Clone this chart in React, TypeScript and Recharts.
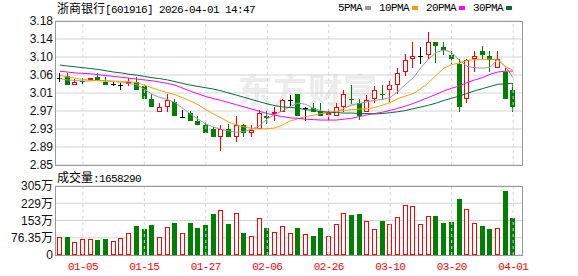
import React from 'react';
import { ComposedChart, Bar, Line, XAxis, YAxis, CartesianGrid, ReferenceLine } from 'recharts';

const dates = [
  '12-29', '12-30', '12-31', '01-05', '01-06', '01-07', '01-08', '01-09', '01-12', '01-13',
  '01-14', '01-15', '01-16', '01-19', '01-20', '01-21', '01-22', '01-23', '01-26', '01-27',
  '01-28', '01-29', '01-30', '02-02', '02-03', '02-04', '02-05', '02-06', '02-09', '02-10',
  '02-11', '02-12', '02-13', '02-24', '02-25', '02-26', '02-27', '03-02', '03-03', '03-04',
  '03-05', '03-06', '03-09', '03-10', '03-11', '03-12', '03-13', '03-16', '03-17', '03-18',
  '03-19', '03-20', '03-23', '03-24', '03-25', '03-26', '03-27', '03-30', '03-31', '04-01',
];

const opens = [
  3.05, 3.053, 3.033, 3.042, 3.046, 3.051, 3.041, 3.036, 3.033, 3.037,
  3.041, 3.032, 3.001, 2.972, 2.983, 2.995, 2.961, 2.97, 2.951, 2.942,
  2.933, 2.914, 2.933, 2.914, 2.942, 2.924, 2.933, 2.963, 2.969, 2.972,
  3.0, 3.012, 2.98, 2.98, 2.974, 2.968, 2.963, 2.983, 3.002, 2.991,
  2.972, 3.001, 3.012, 3.021, 3.033, 3.063, 3.093, 3.099, 3.102, 3.131,
  3.12, 3.101, 3.082, 3.001, 3.093, 3.112, 3.1, 3.073, 3.063, 3.021,
];
const highs = [
  3.06, 3.06, 3.048, 3.05, 3.05, 3.061, 3.051, 3.04, 3.039, 3.05,
  3.051, 3.036, 3.012, 2.992, 3.012, 3.001, 2.976, 2.974, 2.963, 2.948,
  2.938, 2.942, 2.944, 2.963, 2.944, 2.942, 2.976, 2.974, 2.982, 3.001,
  3.011, 3.012, 2.982, 2.991, 2.991, 2.978, 2.991, 3.021, 3.033, 3.001,
  3.011, 3.031, 3.033, 3.043, 3.073, 3.105, 3.133, 3.12, 3.154, 3.131,
  3.131, 3.112, 3.092, 3.093, 3.112, 3.122, 3.112, 3.112, 3.073, 3.035,
];
const lows = [
  3.04, 3.033, 3.033, 3.035, 3.045, 3.045, 3.033, 3.032, 3.021, 3.031,
  3.022, 3.001, 2.983, 2.972, 2.972, 2.963, 2.961, 2.951, 2.942, 2.923,
  2.914, 2.882, 2.914, 2.902, 2.914, 2.914, 2.933, 2.944, 2.951, 2.972,
  2.985, 2.963, 2.951, 2.972, 2.963, 2.953, 2.963, 2.972, 2.99, 2.952,
  2.972, 2.991, 3.0, 2.995, 3.012, 3.055, 3.073, 3.082, 3.093, 3.084,
  3.101, 3.082, 2.972, 2.992, 3.063, 3.092, 3.063, 3.073, 3.002, 2.972,
];
const closes = [
  3.05, 3.033, 3.041, 3.042, 3.05, 3.045, 3.033, 3.036, 3.033, 3.041,
  3.022, 3.001, 2.983, 2.982, 3.0, 2.963, 2.961, 2.951, 2.942, 2.923,
  2.914, 2.933, 2.914, 2.942, 2.924, 2.931, 2.97, 2.958, 2.972, 3.0,
  3.0, 2.963, 2.98, 2.972, 2.963, 2.97, 2.982, 3.012, 2.999, 2.963,
  3.0, 3.021, 3.01, 3.033, 3.061, 3.091, 3.1, 3.099, 3.131, 3.122,
  3.113, 3.093, 2.983, 3.091, 3.1, 3.101, 3.091, 3.093, 3.002, 2.984,
];

// 成交量, 万
const volumes = [
  80, 81, 56, 71, 70, 68, 71, 61, 76, 96,
  129, 116, 133, 78, 123, 140, 99, 140, 118, 132,
  180, 200, 136, 187, 96, 82, 165, 118, 104, 130,
  99, 118, 91, 83, 118, 83, 139, 187, 175, 180,
  152, 117, 149, 139, 170, 222, 216, 139, 174, 171,
  142, 145, 250, 202, 143, 127, 115, 120, 283, 165.83,
];

const ma5 = [
  3.048, 3.045, 3.044, 3.042, 3.043, 3.044, 3.043, 3.042, 3.039, 3.037,
  3.034, 3.024, 3.012, 3.005, 3.0, 2.993, 2.98, 2.967, 2.955, 2.944,
  2.937, 2.932, 2.928, 2.925, 2.927, 2.932, 2.94, 2.956, 2.966, 2.974,
  2.984, 2.992, 2.989, 2.98, 2.974, 2.97, 2.972, 2.98, 2.988, 2.991,
  2.995, 2.998, 3.0, 3.005, 3.018, 3.035, 3.05, 3.073, 3.093, 3.108,
  3.114, 3.108, 3.09, 3.076, 3.073, 3.072, 3.074, 3.092, 3.075, 3.05,
];
const ma10 = [
  3.055, 3.052, 3.049, 3.046, 3.044, 3.043, 3.042, 3.042, 3.042, 3.041,
  3.039, 3.033, 3.027, 3.021, 3.016, 3.011, 3.004, 2.997, 2.988, 2.977,
  2.967, 2.958, 2.948, 2.942, 2.937, 2.934, 2.933, 2.933, 2.935, 2.942,
  2.951, 2.956, 2.961, 2.964, 2.968, 2.97, 2.973, 2.975, 2.977, 2.978,
  2.979, 2.982, 2.987, 2.993, 3.002, 3.008, 3.014, 3.025, 3.039, 3.056,
  3.072, 3.08, 3.084, 3.09, 3.091, 3.092, 3.093, 3.09, 3.076, 3.067,
];
const ma20 = [
  3.065, 3.063, 3.061, 3.06, 3.059, 3.057, 3.055, 3.053, 3.051, 3.049,
  3.047, 3.045, 3.043, 3.04, 3.037, 3.033, 3.026, 3.019, 3.013, 3.007,
  3.002, 2.998, 2.993, 2.988, 2.983, 2.978, 2.973, 2.968, 2.964, 2.961,
  2.958, 2.957, 2.955, 2.954, 2.953, 2.953, 2.953, 2.955, 2.957, 2.961,
  2.965, 2.968, 2.971, 2.975, 2.98, 2.985, 2.991, 2.998, 3.005, 3.012,
  3.02, 3.026, 3.031, 3.039, 3.045, 3.05, 3.058, 3.063, 3.065, 3.065,
];
const ma30 = [
  3.079, 3.077, 3.075, 3.073, 3.071, 3.069, 3.066, 3.063, 3.061, 3.058,
  3.056, 3.053, 3.05, 3.048, 3.045, 3.041, 3.037, 3.033, 3.03, 3.027,
  3.024, 3.02, 3.015, 3.01, 3.005, 3.0, 2.995, 2.99, 2.986, 2.983,
  2.982, 2.98, 2.977, 2.975, 2.972, 2.971, 2.97, 2.969, 2.969, 2.968,
  2.968, 2.967, 2.968, 2.97, 2.972, 2.975, 2.979, 2.983, 2.987, 2.992,
  2.998, 3.003, 3.008, 3.014, 3.02, 3.025, 3.03, 3.035, 3.036, 3.037,
];

const dateTicks = ['01-05', '01-15', '01-27', '02-06', '02-26', '03-10', '03-20', '04-01'];
const priceTicks = [2.85, 2.89125, 2.9325, 2.97375, 3.015, 3.05625, 3.0975, 3.13875, 3.18];
const priceLabels = ['2.85', '2.89', '2.93', '2.97', '3.01', '3.06', '3.10', '3.14', '3.18'];
const volTicks = [0, 76.35, 152.7, 229.05, 305.4];
const volLabels = ['0', '76.35万', '153万', '229万', '305万'];

const UP = '#ff0000';
const DOWN = '#008000';
const FLAT = '#000000';
const MA_COLORS = ['#999999', '#f5a000', '#ff00ff', '#006e36'];
const GRID = '#d4d4d4';
const BORDER = '#999999';
const MONO = "'Liberation Mono', 'DejaVu Sans Mono', monospace";
const CJK = "'Noto Sans CJK SC', sans-serif";

const data = dates.map((date, i) => ({
  date,
  open: opens[i],
  high: highs[i],
  low: lows[i],
  close: closes[i],
  range: [lows[i], highs[i]],
  vol: volumes[i],
  ma5: ma5[i],
  ma10: ma10[i],
  ma20: ma20[i],
  ma30: ma30[i],
}));

const Candle = (props: any) => {
  const { x, y, width, height, payload } = props;
  const top = Math.min(y, y + height);
  const h = Math.abs(height);
  const { open, close, high, low } = payload;
  const py = (v: number) => (high === low ? top : top + ((high - v) / (high - low)) * h);
  const left = Math.round(x + width / 2 - 2.5);
  const cx = left + 2.5;
  const yHigh = Math.round(py(high));
  const yLow = Math.round(py(low));
  const yO = Math.round(py(open));
  const yC = Math.round(py(close));

  if (close === open) {
    return (
      <g>
        <line x1={cx} x2={cx} y1={yHigh} y2={yLow} stroke={FLAT} />
        <line x1={left} x2={left + 5} y1={yO + 0.5} y2={yO + 0.5} stroke={FLAT} />
      </g>
    );
  }
  const bTop = Math.min(yO, yC);
  const bBot = Math.max(yO, yC);
  if (close > open) {
    return (
      <g>
        <line x1={cx} x2={cx} y1={yHigh} y2={bTop} stroke={UP} />
        <line x1={cx} x2={cx} y1={bBot} y2={yLow} stroke={UP} />
        <rect x={left + 0.5} y={bTop + 0.5} width={4} height={Math.max(bBot - bTop - 1, 1)} fill="#fff" stroke={UP} />
      </g>
    );
  }
  return (
    <g>
      <line x1={cx} x2={cx} y1={yHigh} y2={yLow} stroke={DOWN} />
      <rect x={left} y={bTop} width={5} height={Math.max(bBot - bTop, 1)} fill={DOWN} />
    </g>
  );
};

const VolBar = (props: any) => {
  const { x, y, width, height, payload } = props;
  const left = Math.round(x + width / 2 - 2.5);
  const top = Math.round(y);
  const bottom = Math.round(y + height);
  if (payload.close >= payload.open) {
    return (
      <rect x={left + 0.5} y={top + 0.5} width={4} height={Math.max(bottom - top - 1, 1)} fill="#fff" stroke={UP} />
    );
  }
  return <rect x={left} y={top} width={5} height={bottom - top} fill={DOWN} />;
};

const legendItems = [
  { label: '5PMA', color: MA_COLORS[0] },
  { label: '10PMA', color: MA_COLORS[1] },
  { label: '20PMA', color: MA_COLORS[2] },
  { label: '30PMA', color: MA_COLORS[3] },
];

const tickFont = { fill: '#111', fontSize: 12, fontFamily: "'Liberation Sans', Arial, 'Noto Sans CJK SC'" };

export default function App() {
  return (
    <div style={{ position: 'absolute', left: 0, top: 0, width: 578, height: 276, background: '#fff', overflow: 'hidden' }}>
      {/* watermark */}
      <div style={{ position: 'absolute', left: 238, top: 64, fontFamily: CJK, fontSize: 34, fontWeight: 700, color: '#ececec', letterSpacing: 1 }}>
        东方财富
      </div>

      {/* title */}
      <div style={{ position: 'absolute', left: 57, top: 1, height: 14, lineHeight: '14px', whiteSpace: 'nowrap', color: '#000' }}>
        <span style={{ fontFamily: CJK, fontSize: 12 }}>浙商银行</span>
        <span style={{ fontFamily: MONO, fontSize: 11, letterSpacing: -0.6 }}>[601916] 2026-04-01 14:47</span>
      </div>

      {/* legend */}
      <div style={{ position: 'absolute', left: 338, top: 1, height: 14, display: 'flex', alignItems: 'center', whiteSpace: 'nowrap' }}>
        {legendItems.map((it) => (
          <div key={it.label} style={{ display: 'flex', alignItems: 'center', marginRight: 8 }}>
            <span style={{ fontFamily: MONO, fontSize: 11, letterSpacing: -0.6, color: '#000', lineHeight: '14px' }}>{it.label}</span>
            <span style={{ display: 'inline-block', width: 6, height: 4, background: it.color, marginLeft: 3 }} />
          </div>
        ))}
      </div>

      {/* price chart */}
      <div style={{ position: 'absolute', left: 0, top: 0 }}>
        <ComposedChart width={578} height={176} data={data} margin={{ top: 21, right: 56, bottom: 11, left: 0 }}>
          <CartesianGrid vertical={false} stroke={GRID} />
          <XAxis dataKey="date" hide padding={{ left: 1, right: 5 }} />
          <YAxis
            domain={[2.85, 3.18]}
            ticks={priceTicks}
            interval={0}
            allowDataOverflow
            width={55}
            axisLine={false}
            tickLine={false}
            tickSize={0}
            tickMargin={2}
            tick={tickFont}
            tickFormatter={(v: number) => priceLabels[priceTicks.indexOf(v)] ?? String(v)}
          />
          {dateTicks.map((d) => (
            <ReferenceLine key={d} x={d} stroke={GRID} strokeDasharray="3 3" />
          ))}
          <Bar dataKey="range" barSize={5} shape={Candle} isAnimationActive={false} />
          <Line dataKey="ma5" stroke={MA_COLORS[0]} strokeWidth={1} dot={false} activeDot={false} isAnimationActive={false} />
          <Line dataKey="ma10" stroke={MA_COLORS[1]} strokeWidth={1} dot={false} activeDot={false} isAnimationActive={false} />
          <Line dataKey="ma20" stroke={MA_COLORS[2]} strokeWidth={1} dot={false} activeDot={false} isAnimationActive={false} />
          <Line dataKey="ma30" stroke={MA_COLORS[3]} strokeWidth={1} dot={false} activeDot={false} isAnimationActive={false} />
        </ComposedChart>
      </div>
      <div style={{ position: 'absolute', left: 55, top: 21, width: 468, height: 145, border: `1px solid ${BORDER}`, boxSizing: 'border-box', pointerEvents: 'none' }} />

      {/* volume label */}
      <div style={{ position: 'absolute', left: 57, top: 170, height: 14, lineHeight: '14px', whiteSpace: 'nowrap', color: '#000' }}>
        <span style={{ fontFamily: CJK, fontSize: 12 }}>成交量</span>
        <span style={{ fontFamily: MONO, fontSize: 11, letterSpacing: -0.6 }}>:1658290</span>
      </div>

      {/* volume chart */}
      <div style={{ position: 'absolute', left: 0, top: 180 }}>
        <ComposedChart width={578} height={96} data={data} margin={{ top: 6, right: 56, bottom: 0, left: 0 }}>
          <CartesianGrid vertical={false} stroke={GRID} />
          <XAxis
            dataKey="date"
            ticks={dateTicks}
            interval={0}
            padding={{ left: 1, right: 5 }}
            height={21}
            axisLine={false}
            tickLine={false}
            tickSize={0}
            tickMargin={7}
            tick={{ fill: '#ff0000', fontSize: 11, fontFamily: MONO, letterSpacing: -0.6 }}
          />
          <YAxis
            domain={[0, 305.4]}
            ticks={volTicks}
            interval={0}
            allowDataOverflow
            width={55}
            axisLine={false}
            tickLine={false}
            tickSize={0}
            tickMargin={2}
            tick={tickFont}
            tickFormatter={(v: number) => volLabels[volTicks.indexOf(v)] ?? String(v)}
          />
          {dateTicks.map((d) => (
            <ReferenceLine key={d} x={d} stroke={GRID} strokeDasharray="3 3" />
          ))}
          <Bar dataKey="vol" barSize={5} shape={VolBar} isAnimationActive={false} />
        </ComposedChart>
      </div>
      <div style={{ position: 'absolute', left: 55, top: 186, width: 468, height: 70, border: `1px solid ${BORDER}`, boxSizing: 'border-box', pointerEvents: 'none' }} />
    </div>
  );
}
